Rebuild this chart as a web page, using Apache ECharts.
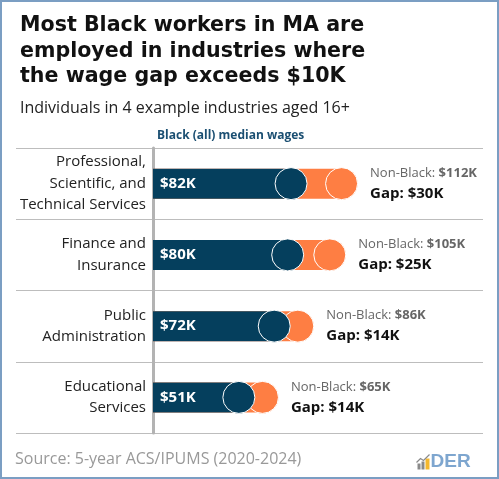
<!DOCTYPE html>
<html>
<head>
<meta charset="utf-8">
<script src="https://cdn.jsdelivr.net/npm/echarts@6/dist/echarts.min.js"></script>
<style>
  html, body { margin: 0; padding: 0; background: #fff; }
  #chart { width: 499px; height: 479px; }
</style>
</head>
<body>
<div id="chart"></div>
<script>
var categories = [
    'Professional,\nScientific, and\nTechnical Services',
    'Finance and\nInsurance',
    'Public\nAdministration',
    'Educational\nServices'
];
var blackWages = [82, 80, 72, 51];
var nonBlackWages = [112, 105, 86, 65];

var navy = '#053f5d';
var orange = '#fe7e43';
var font = '"Open Sans", "Noto Sans", sans-serif';

var chart = echarts.init(document.getElementById('chart'));

var orangeDots = [];
var navyDots = [];
for (var i = 0; i < categories.length; i++) {
    orangeDots.push([nonBlackWages[i], i]);
    navyDots.push([blackWages[i], i]);
}

chart.setOption({
    animation: false,
    backgroundColor: '#fff',
    textStyle: {fontFamily: font},
    title: [{
        text: 'Most Black workers in MA are\nemployed in industries where\nthe wage gap exceeds $10K',
        left: 15,
        top: 8,
        textStyle: {fontFamily: '"DejaVu Sans"', fontWeight: 'bold', fontSize: 20.6, lineHeight: 25.5, color: '#111'}
    }, {
        text: 'Individuals in 4 example industries aged 16+',
        left: 15,
        top: 95,
        textStyle: {fontFamily: font, fontWeight: 'normal', fontSize: 16, color: '#222'}
    }],
    // grid 0 holds the bars, grid 1 only draws the row separators across the full width
    grid: [
        {left: 153, right: 16, top: 148, bottom: 46, outerBoundsMode: 'none'},
        {left: 16, right: 16, top: 148, bottom: 46, outerBoundsMode: 'none'}
    ],
    xAxis: [
        {type: 'value', gridIndex: 0, min: 0, max: 196, show: false},
        {type: 'value', gridIndex: 1, min: 0, max: 1, show: false}
    ],
    yAxis: [{
        type: 'category',
        gridIndex: 0,
        inverse: true,
        data: categories,
        axisLine: {show: true, lineStyle: {color: '#b3b3b3', width: 3}},
        axisTick: {show: false},
        axisLabel: {color: '#222', fontSize: 15, lineHeight: 21.5, margin: 7, fontFamily: font},
        splitLine: {show: false},
        z: 1
    }, {
        type: 'category',
        gridIndex: 1,
        inverse: true,
        data: categories,
        axisLine: {show: false},
        axisTick: {show: false},
        axisLabel: {show: false},
        splitLine: {show: true, lineStyle: {color: '#bdbdbd', width: 1}},
        z: 0
    }],
    series: [{
        name: 'Non-Black bar',
        type: 'bar',
        data: nonBlackWages,
        barWidth: 30,
        barGap: '-100%',
        itemStyle: {color: orange}
    }, {
        name: 'Black bar',
        type: 'bar',
        data: blackWages,
        barWidth: 30,
        barGap: '-100%',
        itemStyle: {color: navy},
        label: {
            show: true,
            position: 'insideLeft',
            distance: 7,
            color: '#fff',
            fontWeight: 'bold',
            fontSize: 15,
            fontFamily: font,
            formatter: function(p) { return '$' + p.value + 'K'; }
        }
    }, {
        name: 'Non-Black',
        type: 'scatter',
        data: orangeDots,
        symbolSize: 32,
        itemStyle: {color: orange, opacity: 1, borderColor: '#fff', borderWidth: 1},
        label: {
            show: true,
            position: 'right',
            distance: 12,
            formatter: function(p) {
                var i = p.dataIndex;
                return '{a|Non-Black: }{b|$' + nonBlackWages[i] + 'K}\n{c|Gap: $' + (nonBlackWages[i] - blackWages[i]) + 'K}';
            },
            rich: {
                a: {color: '#666', fontSize: 13, lineHeight: 20, fontFamily: font},
                b: {color: '#666', fontSize: 13, lineHeight: 20, fontWeight: 'bold', fontFamily: font},
                c: {color: '#111', fontSize: 15, lineHeight: 21, fontWeight: 'bold', fontFamily: font}
            }
        }
    }, {
        name: 'Black',
        type: 'scatter',
        data: navyDots,
        symbolSize: 32,
        itemStyle: {color: navy, opacity: 1, borderColor: '#fff', borderWidth: 1}
    }],
    graphic: [{
        type: 'rect',
        shape: {x: 1, y: 1, width: 497, height: 477},
        style: {fill: null, stroke: '#7b9ec3', lineWidth: 2},
        z: 100
    }, {
        type: 'text',
        left: 157,
        top: 130,
        style: {text: 'Black (all) median wages', fill: '#1b4f72', font: 'bold 12px "Open Sans", "Noto Sans", sans-serif'}
    }, {
        type: 'text',
        left: 15,
        top: 451,
        style: {text: 'Source: 5-year ACS/IPUMS (2020-2024)', fill: '#999', font: '16px "Open Sans", "Noto Sans", sans-serif'}
    }, {
        type: 'group',
        left: 414,
        top: 452,
        children: [
            {type: 'rect', shape: {x: 1, y: 10, width: 3, height: 6}, style: {fill: '#8a8a8a'}},
            {type: 'rect', shape: {x: 5, y: 8, width: 3, height: 8}, style: {fill: '#8a8a8a'}},
            {type: 'rect', shape: {x: 9, y: 5, width: 4, height: 11}, style: {fill: '#f5b82e'}},
            {type: 'polyline', shape: {points: [[0, 9], [4, 5], [7, 7], [13, 1]]}, style: {stroke: '#8a8a8a', lineWidth: 1.2, fill: null}},
            {type: 'text', x: 14, y: -1, style: {text: 'DER', fill: '#7ea6cf', font: 'bold 19px "Liberation Sans", Arial, sans-serif'}}
        ]
    }]
});
</script>
</body>
</html>
